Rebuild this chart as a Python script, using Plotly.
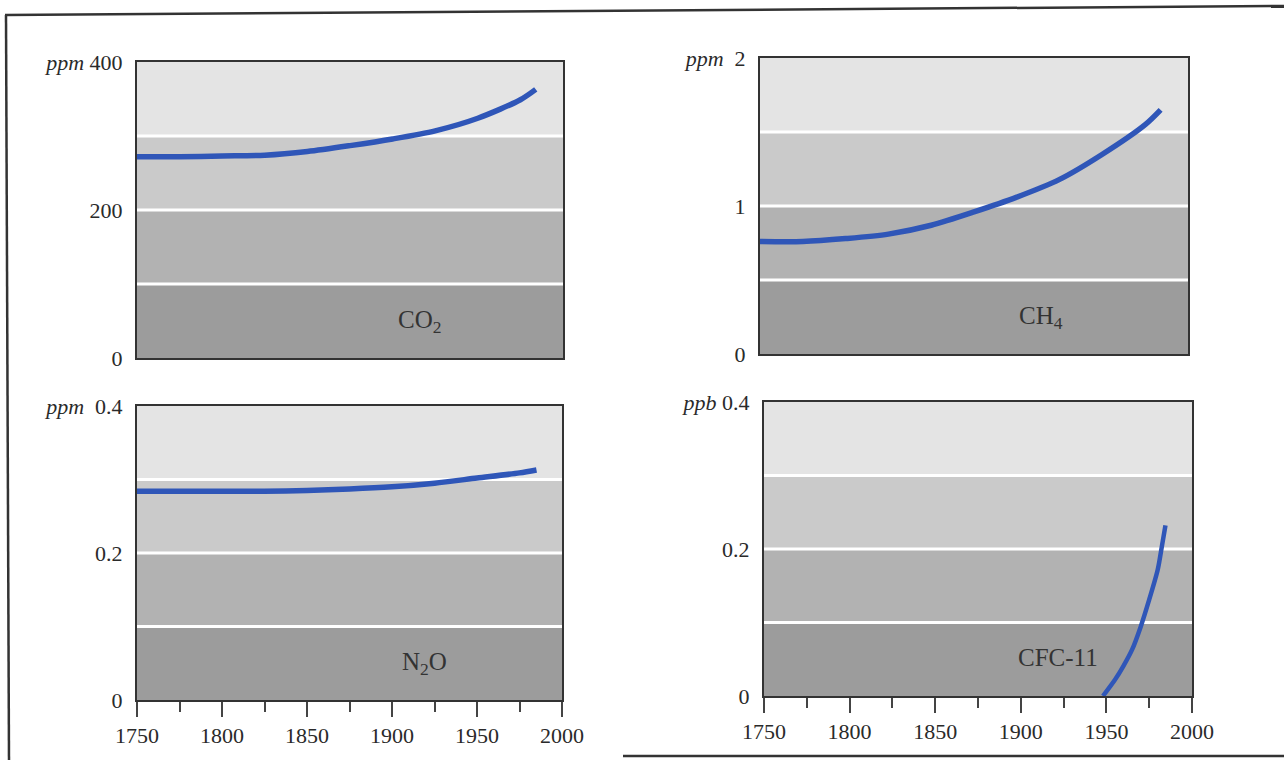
import plotly.graph_objects as go

# ---------------- data ----------------
co2_years = [1750, 1775, 1800, 1825, 1850, 1875, 1900, 1925, 1950, 1975, 1984]
co2_ppm = [272, 272, 273, 274, 279, 287, 296, 307, 324, 349, 363]

ch4_years = [1750, 1775, 1800, 1825, 1850, 1875, 1900, 1925, 1950, 1975, 1984]
ch4_ppm = [0.76, 0.76, 0.78, 0.81, 0.87, 0.96, 1.06, 1.18, 1.35, 1.55, 1.65]

n2o_years = [1750, 1775, 1800, 1825, 1850, 1875, 1900, 1925, 1950, 1975, 1985]
n2o_ppm = [0.284, 0.284, 0.284, 0.284, 0.285, 0.287, 0.290, 0.295, 0.302, 0.309, 0.313]

cfc_years = [1948, 1955, 1960, 1965, 1970, 1975, 1980, 1982.5, 1984.5]
cfc_ppb = [0.0, 0.022, 0.041, 0.063, 0.094, 0.131, 0.172, 0.205, 0.232]

panels = [
    dict(name="CO<sub>2</sub>", x=co2_years, y=co2_ppm, ymax=400,
         ticks=[0, 200, 400], ticktext=["0", "200", "<i>ppm</i> 400"],
         label_pos=(1916, 49)),
    dict(name="CH<sub>4</sub>", x=ch4_years, y=ch4_ppm, ymax=2,
         ticks=[0, 1, 2], ticktext=["0", "1", "<i>ppm</i>  2"],
         label_pos=(1914, 0.245)),
    dict(name="N<sub>2</sub>O", x=n2o_years, y=n2o_ppm, ymax=0.4,
         ticks=[0, 0.2, 0.4], ticktext=["0", "0.2", "<i>ppm</i>  0.4"],
         label_pos=(1919, 0.05)),
    dict(name="CFC-11", x=cfc_years, y=cfc_ppb, ymax=0.4,
         ticks=[0, 0.2, 0.4], ticktext=["0", "0.2", "<i>ppb</i> 0.4"],
         label_pos=(1922, 0.053)),
]

W, H = 1284, 760
# pixel boxes (x0, x1, y_top, y_bottom)
boxes = [(137, 563, 62, 358), (760, 1188, 58, 354),
         (137, 562, 406, 700), (764, 1192, 402, 696)]

band_colors = ["#9c9c9c", "#b2b2b2", "#cacaca", "#e4e4e4"]
line_color = "#2f56b8"
font_family = "Liberation Serif, DejaVu Serif, serif"

fig = go.Figure()
shapes = []
annotations = []

for i, (p, b) in enumerate(zip(panels, boxes)):
    n = i + 1
    xa = "x" if n == 1 else f"x{n}"
    ya = "y" if n == 1 else f"y{n}"
    x0, x1, yt, yb = b
    dom_x = [x0 / W, x1 / W]
    dom_y = [1 - yb / H, 1 - yt / H]
    bottom = i >= 2

    xaxis = dict(domain=dom_x, range=[1750, 2000], anchor=ya, automargin=False,
                 showgrid=False, zeroline=False,
                 showline=True, mirror=True, linecolor="#333333", linewidth=2,
                 tickfont=dict(family=font_family, size=22, color="#2a2a2a"))
    if bottom:
        xaxis.update(tickmode="linear", tick0=1750, dtick=50,
                     ticks="outside", ticklen=15, tickwidth=1.5, tickcolor="#444444",
                     showticklabels=True,
                     minor=dict(tickmode="linear", tick0=1775, dtick=25,
                                ticks="outside", ticklen=10, tickwidth=1.5,
                                tickcolor="#444444", showgrid=False))
    else:
        xaxis.update(ticks="", showticklabels=False)

    yaxis = dict(domain=dom_y, range=[0, p["ymax"]], anchor=xa, automargin=False,
                 showgrid=False, zeroline=False,
                 showline=True, mirror=True, linecolor="#333333", linewidth=2,
                 tickmode="array", tickvals=p["ticks"], ticktext=p["ticktext"],
                 ticks="", ticklabelstandoff=8,
                 tickfont=dict(family=font_family, size=22, color="#2a2a2a"))

    fig.update_layout(**{("xaxis" if n == 1 else f"xaxis{n}"): xaxis,
                         ("yaxis" if n == 1 else f"yaxis{n}"): yaxis})

    step = p["ymax"] / 4
    for k in range(4):
        shapes.append(dict(type="rect", xref=xa, yref=ya, x0=1750, x1=2000,
                           y0=k * step, y1=(k + 1) * step,
                           fillcolor=band_colors[k], line=dict(width=0),
                           layer="below"))
    for k in range(1, 4):
        shapes.append(dict(type="line", xref=xa, yref=ya, x0=1750, x1=2000,
                           y0=k * step, y1=k * step,
                           line=dict(color="white", width=3), layer="below"))

    fig.add_trace(go.Scatter(x=p["x"], y=p["y"], mode="lines",
                             line=dict(color=line_color, width=5.5 if i < 3 else 4.5,
                                       shape="spline", smoothing=0.8),
                             xaxis=xa, yaxis=ya, showlegend=False,
                             hoverinfo="skip"))

    lx, ly = p["label_pos"]
    annotations.append(dict(x=lx, y=ly, xref=xa, yref=ya, text=p["name"],
                            showarrow=False,
                            font=dict(family=font_family, size=25, color="#333333")))

# page frame lines (scan border)
shapes += [
    dict(type="line", xref="paper", yref="paper", x0=6 / W, x1=9 / W,
         y0=1 - 15 / H, y1=0, line=dict(color="#333333", width=2.5)),
    dict(type="line", xref="paper", yref="paper", x0=5 / W, x1=1,
         y0=1 - 15 / H, y1=1 - 6 / H, line=dict(color="#333333", width=2.5)),
    dict(type="line", xref="paper", yref="paper", x0=623 / W, x1=1,
         y0=1 - 756 / H, y1=1 - 756 / H, line=dict(color="#333333", width=2.5)),
]

fig.update_layout(width=W, height=H, margin=dict(l=0, r=0, t=0, b=0, autoexpand=False),
                  template="none",
                  paper_bgcolor="white", plot_bgcolor="white",
                  shapes=shapes, annotations=annotations, showlegend=False)

fig.write_html("out.html")
